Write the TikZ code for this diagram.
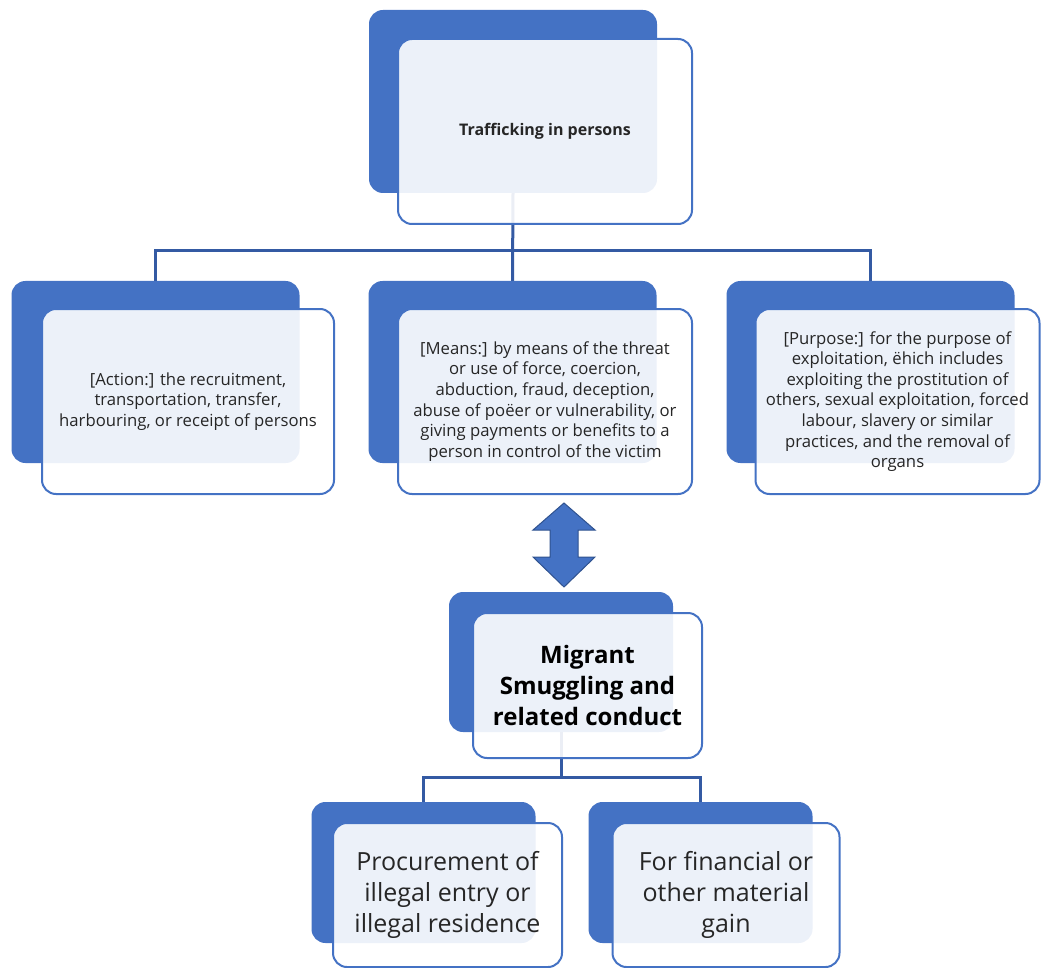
\documentclass[tikz,border=0pt]{standalone}
\usepackage{fontspec}
\setmainfont{Open Sans}
\definecolor{accent}{HTML}{4472C4}
\definecolor{connc}{HTML}{345AA3}
\definecolor{arrowedge}{HTML}{2F528F}
\definecolor{txt}{HTML}{262626}
\begin{document}
\begin{tikzpicture}[x=1pt,y=-1pt,
  backbox/.style={rectangle, rounded corners=14pt, fill=accent, draw=none, inner sep=0pt},
  frontbox/.style={rectangle, rounded corners=14pt, fill=white, fill opacity=0.9, text opacity=1,
     draw=accent, draw opacity=1, line width=2pt, inner sep=1pt, align=center, text=txt},
  conn/.style={draw=connc, line width=3pt, line join=miter},
  smalltext/.style={font=\fontsize{16.7}{20.6}\selectfont},
  bigtext/.style={font=\fontsize{25}{31}\selectfont}
]
\useasboundingbox (0,0) rectangle (1041,968);

% back boxes
\node[backbox, minimum width=288pt, minimum height=183pt] (tb) at (513,101.5) {};
\node[backbox, minimum width=288pt, minimum height=182pt] (lb) at (155.5,372) {};
\node[backbox, minimum width=288pt, minimum height=182pt] (mb) at (512.5,372) {};
\node[backbox, minimum width=288pt, minimum height=182pt] (rb) at (870.5,372) {};
\node[backbox, minimum width=224pt, minimum height=140pt] (sb) at (561,662) {};
\node[backbox, minimum width=224pt, minimum height=141pt] (pb) at (423.5,872.5) {};
\node[backbox, minimum width=224pt, minimum height=141pt] (gb) at (700.5,872.5) {};

% connectors
\coordinate (h1) at ([yshift=30pt]mb.north);
\draw[conn] (tb.south) -- (mb.north);
\draw[conn] (lb.north) |- (h1) -| (rb.north);
\coordinate (h2) at ([yshift=24pt]gb.north);
\draw[conn] (sb.south) -- (sb.south |- h2);
\draw[conn] (pb.north) |- (h2) -- (gb.north);

% front boxes
\node[frontbox, minimum width=294pt, minimum height=185pt, font=\bfseries\fontsize{16}{20}\selectfont] (tf) at (545,131.5) {Trafficking in persons};
\node[frontbox, smalltext, minimum width=292pt, minimum height=185pt] (lf) at (188,401.5)
  {[Action:] the recruitment,\\transportation, transfer,\\harbouring, or receipt of persons};
\node[frontbox, smalltext, minimum width=294pt, minimum height=185pt] (mf) at (545,401.5)
  {[Means:] by means of the threat\\or use of force, coercion,\\abduction, fraud, deception,\\abuse of po\"eer or vulnerability, or\\giving payments or benefits to a\\person in control of the victim};
\node[frontbox, smalltext, minimum width=284pt, minimum height=185pt] (rf) at (897.5,401.5)
  {[Purpose:] for the purpose of\\exploitation, \"ehich includes\\exploiting the prostitution of\\others, sexual exploitation, forced\\labour, slavery or similar\\practices, and the removal of\\organs};
\node[frontbox, minimum width=229pt, minimum height=145pt, font=\bfseries\fontsize{24}{31}\selectfont, text=black] (sf) at (587.5,685.5)
  {Migrant\\Smuggling and\\related conduct};
\node[frontbox, bigtext, minimum width=229pt, minimum height=144pt] (pf) at (447.5,895)
  {Procurement of\\illegal entry or\\illegal residence};
\node[frontbox, bigtext, minimum width=227pt, minimum height=144pt] (gf) at (726,895)
  {For financial or\\other material\\gain};

% double arrow between means and smuggling
\coordinate (da) at (564,545);
\draw[fill=accent, draw=arrowedge, line width=1pt, line join=miter]
  ([yshift=42pt]da) -- ++(31,27) -- ++(-17,0) -- ++(0,27) -- ++(17,0)
  -- ([yshift=-42pt]da) -- ++(-31,-30) -- ++(17,0) -- ++(0,-27) -- ++(-17,0) -- cycle;
\end{tikzpicture}
\end{document}
